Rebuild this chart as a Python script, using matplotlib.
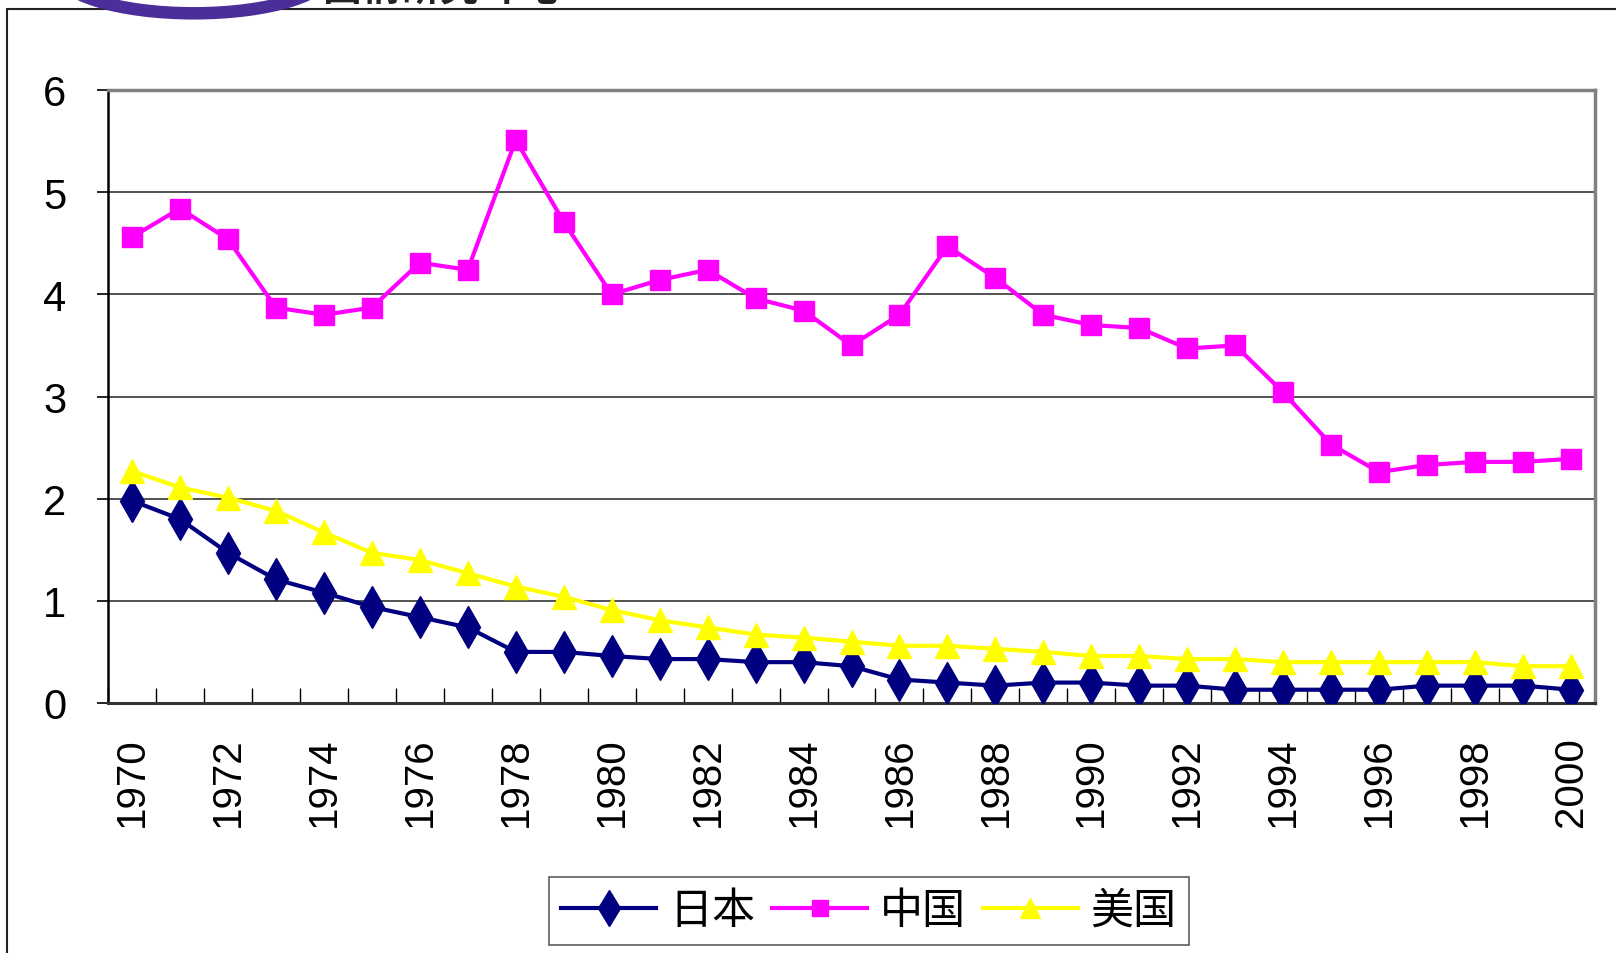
import numpy as np
import matplotlib.pyplot as plt
from matplotlib.patches import Rectangle, Ellipse

plt.rcParams['font.family'] = ['Liberation Sans', 'Noto Sans CJK SC', 'DejaVu Sans']

years = list(range(1970, 2001))
japan = [1.98, 1.80, 1.47, 1.21, 1.08, 0.94, 0.84, 0.74, 0.50, 0.50,
         0.46, 0.43, 0.43, 0.40, 0.40, 0.36, 0.23, 0.20, 0.17, 0.20,
         0.20, 0.17, 0.17, 0.13, 0.13, 0.13, 0.13, 0.17, 0.17, 0.17, 0.13]
china = [4.56, 4.84, 4.54, 3.87, 3.80, 3.87, 4.31, 4.24, 5.51, 4.71,
         4.00, 4.14, 4.24, 3.96, 3.84, 3.50, 3.80, 4.47, 4.16, 3.80,
         3.70, 3.67, 3.47, 3.50, 3.04, 2.53, 2.26, 2.33, 2.36, 2.36, 2.39]
usa = [2.27, 2.11, 2.01, 1.88, 1.67, 1.47, 1.40, 1.27, 1.14, 1.04,
       0.91, 0.81, 0.74, 0.67, 0.64, 0.60, 0.56, 0.56, 0.53, 0.50,
       0.46, 0.46, 0.43, 0.43, 0.40, 0.40, 0.40, 0.40, 0.40, 0.36, 0.36]
series_names = ['日本', '中国', '美国']

fig = plt.figure(figsize=(16.16, 9.54), dpi=100)

# outer frame and the logo cut off at the top
fig.patches.append(Rectangle((7 / 1616, -0.1), 1.2, 1 - 10 / 954 + 0.1, transform=fig.transFigure,
                             fill=False, edgecolor='#222222', linewidth=1.5))
fig.patches.append(Ellipse((0.12, 1.03), 0.17, 0.09, transform=fig.transFigure,
                           fill=False, edgecolor='#4b2e9a', linewidth=9))
fig.text(0.2, 1 - 9 / 954, '国情研究 中心', fontsize=28, fontweight='bold',
         family=['Noto Sans CJK SC'], va='bottom', ha='left', color='#222222')

ax = fig.add_axes([108 / 1616, 1 - 704 / 954, (1595 - 108) / 1616, 613 / 954])
x = np.arange(len(years))

ax.plot(x, japan, color='#000080', marker='d', markersize=21, linewidth=3,
        label=series_names[0], zorder=3)
ax.plot(x, china, color='#ff00ff', marker='s', markersize=14, linewidth=3,
        label=series_names[1], zorder=3)
ax.plot(x, usa, color='#ffff00', marker='^', markersize=17, linewidth=3,
        label=series_names[2], zorder=3)

ax.set_xlim(-0.5, len(years) - 0.5)
ax.set_ylim(0, 6)
ax.set_yticks(range(7))
ax.yaxis.grid(True, color='#444444', linewidth=1.3)
ax.set_axisbelow(True)

ax.set_xticks(x[::2])
ax.set_xticklabels([str(y) for y in years[::2]], rotation=90, fontsize=29)
ax.set_xticks(np.arange(-0.5, len(years)), minor=True)
ax.tick_params(axis='x', which='major', length=0, pad=24)
ax.tick_params(axis='x', which='minor', direction='in', length=11, width=1.0, color='black')
ax.tick_params(axis='y', labelsize=30, length=8, width=1.2, pad=22)

for side in ['top', 'right']:
    ax.spines[side].set_color('#808080')
    ax.spines[side].set_linewidth(2.5)
ax.spines['left'].set_linewidth(1.8)
ax.spines['bottom'].set_linewidth(2.2)
ax.spines['bottom'].set_color('#333333')

leg = fig.legend(loc='center', bbox_to_anchor=(869 / 1616, 1 - 912 / 954), ncol=3,
                 prop={'family': ['Noto Sans CJK SC'], 'size': 31},
                 frameon=True, fancybox=False, edgecolor='#333333',
                 handlelength=2.2, columnspacing=0.4, handletextpad=0.3,
                 borderpad=0.28, borderaxespad=0, markerscale=0.85)
leg.get_frame().set_linewidth(1.2)

fig.savefig('out.png', dpi=100)
